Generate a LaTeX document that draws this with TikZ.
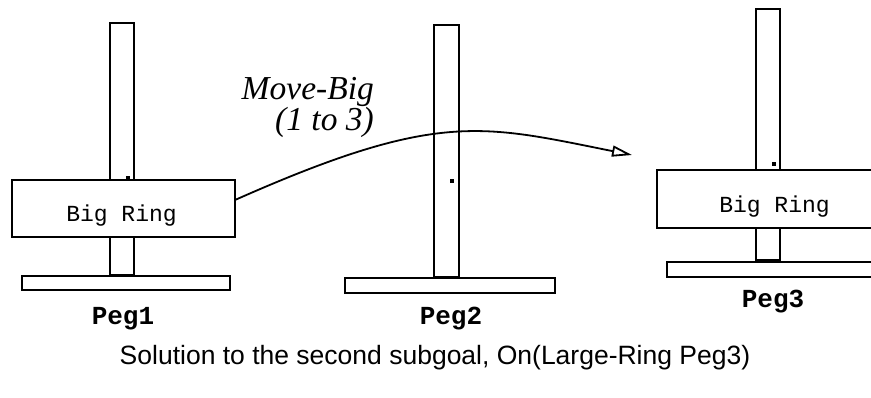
\documentclass[tikz,border=0pt]{standalone}
\usepackage{fontspec}
\setmainfont{Liberation Serif}
\setsansfont{Liberation Sans}
\setmonofont{Liberation Mono}
\usetikzlibrary{arrows.meta}
\begin{document}
\begin{tikzpicture}[x=1pt,y=-1pt,
  box/.style={draw, line width=1.9pt, fill=white, rectangle, inner sep=0pt, outer sep=0pt},
  ringtext/.style={anchor=base, inner sep=0pt, font=\ttfamily\fontsize{23}{23}\selectfont},
  peglabel/.style={anchor=base, inner sep=0pt, font=\ttfamily\bfseries\fontsize{26}{26}\selectfont},
  movetext/.style={anchor=base east, inner sep=0pt, font=\itshape\fontsize{33.5}{33.5}\selectfont},
  dot/.style={fill=black}]
\useasboundingbox (0,0) rectangle (871,398);
\clip (0,0) rectangle (871,398);
% poles
\node[box, minimum width=24pt, minimum height=252pt] (pole1) at (122,149) {};
\node[box, minimum width=25pt, minimum height=252pt] (pole2) at (446.5,151) {};
\node[box, minimum width=24pt, minimum height=251pt] (pole3) at (768,134.5) {};
% bases
\node[box, minimum width=208pt, minimum height=14pt] (base1) at (126,283) {};
\node[box, minimum width=210pt, minimum height=15pt] (base2) at (450,285.5) {};
\node[box, minimum width=228pt, minimum height=15pt] (base3) at (781,269.5) {};
% rings
\node[box, minimum width=223pt, minimum height=57pt] (ring1) at (123.5,208.5) {};
\node[box, minimum width=238pt, minimum height=58pt] (ring3) at (776,199) {};
% dots
\fill[dot] (126,176) rectangle (130,180);
\fill[dot] (450,179) rectangle (454,183);
\fill[dot] (772,162) rectangle (776,166);
% ring texts
\node[ringtext] (rt1) at (121.5,222) {Big Ring};
\node[ringtext] (rt3) at (774.5,213) {Big Ring};
% peg labels
\node[peglabel] (pl1) at (123,325) {Peg1};
\node[peglabel] (pl2) at (451,325) {Peg2};
\node[peglabel] (pl3) at (773,308) {Peg3};
% move label
\node[movetext] (mv1) at (374,100) {Move-Big};
\node[movetext] (mv2) at (374,131) {(1 to 3)};
% arrow
\coordinate (tip) at (632,155);
\draw[line width=1.8pt, -{Triangle[open, length=20pt, width=11pt, line width=1.8pt]}]
  ([yshift=8.5pt]ring1.east) .. controls (438,110) and (482,125) .. (tip);
% caption
\node[anchor=base, inner sep=0pt, font=\sffamily\fontsize{26.5}{26.5}\selectfont] (cap) at (435,364)
  {Solution to the second subgoal, On(Large-Ring Peg3)};
\end{tikzpicture}
\end{document}
